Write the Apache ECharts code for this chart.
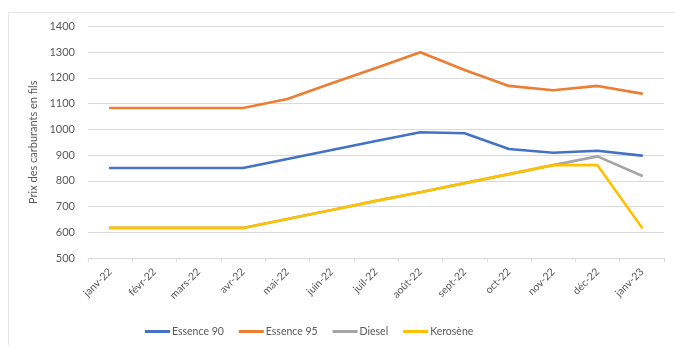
<!DOCTYPE html>
<html><head><meta charset="utf-8">
<script src="https://cdn.jsdelivr.net/npm/echarts@6/dist/echarts.min.js"></script>
<style>html,body{margin:0;padding:0;background:#fff}#c{width:675px;height:345px}</style>
</head><body><div id="c"></div>
<script>
const categories = ['janv-22','févr-22','mars-22','avr-22','mai-22','juin-22','juil-22','août-22','sept-22','oct-22','nov-22','déc-22','janv-23'];
const essence90 = [850,850,850,850,885,920,955,989,985,924,909,917,898];
const essence95 = [1083,1083,1083,1083,1118,1179,1239,1300,1231,1169,1152,1169,1139];
const diesel    = [617,617,617,617,652,687,722,756,791,826,861,895,820];
const kerosene  = [617,617,617,617,652,687,722,756,791,826,861,861,619];
const yTicks = {min:500, max:1400, interval:100};

const font = 'Lato';
const chart = echarts.init(document.getElementById('c'));
function s(name, data, color, z){
  return {name, type:'line', data, symbol:'none', z,
    lineStyle:{color, width:2.6, cap:'round', join:'round'}, itemStyle:{color}};
}
chart.setOption({
  animation:false,
  textStyle:{fontFamily:font},
  graphic:[{type:'rect', shape:{x:8.5,y:12.5,width:680,height:340}, style:{fill:'none', stroke:'#e6e6e6', lineWidth:1}, z:-1}],
  grid:{left:88, right:11, top:26.5, bottom:87},
  legend:{left:140, top:321, itemWidth:25, itemHeight:3, itemGap:15, icon:'rect',
    textStyle:{fontFamily:font, fontSize:10.5, color:'#595959', padding:[0,0,0,-3]},
    data:['Essence 90','Essence 95','Diesel','Kerosène']},
  xAxis:{type:'category', data:categories, boundaryGap:true,
    axisLine:{lineStyle:{color:'#d9d9d9'}},
    axisTick:{show:true, length:4, lineStyle:{color:'#d9d9d9'}},
    axisLabel:{rotate:45, fontSize:10.5, color:'#595959', fontFamily:font, margin:12}},
  yAxis:{type:'value', min:yTicks.min, max:yTicks.max, interval:yTicks.interval,
    name:'Prix des carburants en fils', nameLocation:'middle', nameGap:27, nameRotate:90,
    nameTextStyle:{fontSize:11, color:'#595959', fontFamily:font},
    axisLine:{show:false}, axisTick:{show:false},
    axisLabel:{fontSize:11, color:'#595959', fontFamily:font, margin:13, formatter:v=>String(v)},
    splitLine:{lineStyle:{color:'#d9d9d9'}}},
  series:[
    s('Essence 90', essence90, '#4472C4', 4),
    s('Essence 95', essence95, '#ED7D31', 3),
    s('Diesel', diesel, '#A5A5A5', 2),
    s('Kerosène', kerosene, '#FFC000', 5)
  ]
});
</script></body></html>
